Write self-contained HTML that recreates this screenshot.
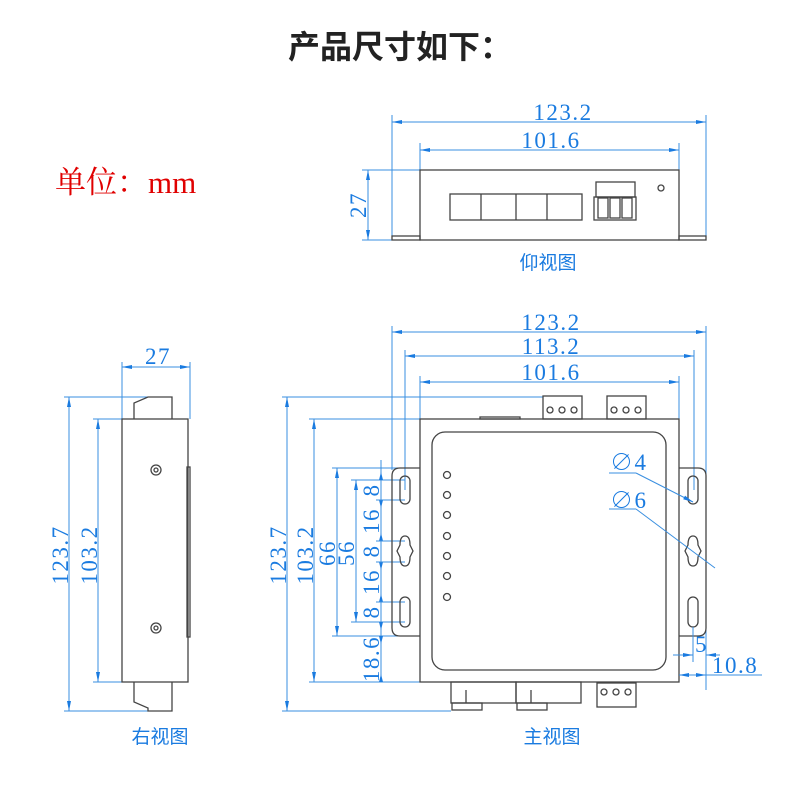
<!DOCTYPE html>
<html><head><meta charset="utf-8"><style>
html,body{margin:0;padding:0;background:#fff;}
svg{display:block;}
.t{font-family:"Liberation Serif","Noto Serif CJK SC",serif;fill:#1a7be0;font-size:23px;letter-spacing:1.5px;}
.d{stroke:#3a8fe0;stroke-width:1;fill:none;}
.k{stroke:#444;stroke-width:1.3;fill:none;}
.c{font-family:"Liberation Sans","Noto Sans CJK SC",sans-serif;fill:#1a7be0;font-size:19px;}
</style></head><body>
<svg width="800" height="800" viewBox="0 0 800 800" xmlns="http://www.w3.org/2000/svg">
<defs>
<marker id="a" markerWidth="10" markerHeight="6" refX="10" refY="3" orient="auto-start-reverse" markerUnits="userSpaceOnUse"><path d="M0,1 L10,3 L0,5z" fill="#1a7be0"/></marker>
</defs>
<text x="400" y="58" text-anchor="middle" font-family="Liberation Sans,'Noto Sans CJK SC',sans-serif" font-size="32" font-weight="bold" fill="#222">产品尺寸如下：</text>
<text x="55" y="193" font-family="'Liberation Serif','Noto Serif CJK SC',serif" font-size="31" fill="#e00000">单位：mm</text>

<!-- TOP VIEW -->
<g>
<line class="d" x1="392" y1="122" x2="706" y2="122" marker-start="url(#a)" marker-end="url(#a)"/>
<line class="d" x1="420" y1="150" x2="679" y2="150" marker-start="url(#a)" marker-end="url(#a)"/>
<line class="d" x1="392" y1="115" x2="392" y2="240"/>
<line class="d" x1="706" y1="115" x2="706" y2="240"/>
<line class="d" x1="420" y1="143" x2="420" y2="170"/>
<line class="d" x1="679" y1="143" x2="679" y2="170"/>
<line class="d" x1="368" y1="170" x2="368" y2="240" marker-start="url(#a)" marker-end="url(#a)"/>
<line class="d" x1="362" y1="170" x2="420" y2="170"/>
<line class="d" x1="362" y1="240" x2="392" y2="240"/>
<text class="t" x="563" y="120" text-anchor="middle">123.2</text>
<text class="t" x="551" y="148" text-anchor="middle">101.6</text>
<text class="t" transform="translate(366,205) rotate(-90)" text-anchor="middle">27</text>
<rect class="k" x="420" y="170" width="259" height="70"/>
<rect class="k" x="392" y="236" width="28" height="4"/>
<rect class="k" x="679" y="236" width="27" height="4"/>
<rect class="k" x="450" y="194" width="132" height="26"/>
<line class="k" x1="481" y1="194" x2="481" y2="220"/><line class="k" x1="516" y1="194" x2="516" y2="220"/><line class="k" x1="547" y1="194" x2="547" y2="220"/>
<rect class="k" x="596" y="182" width="39" height="15"/>
<rect class="k" x="594" y="197" width="42" height="23"/>
<rect class="k" x="598" y="198" width="10" height="20"/><rect class="k" x="610" y="198" width="10" height="20"/><rect class="k" x="622" y="198" width="10" height="20"/>
<circle class="k" cx="661" cy="188" r="3"/>
<text class="c" x="548" y="269" text-anchor="middle">仰视图</text>
</g>

<!-- SIDE VIEW -->
<g>
<line class="d" x1="122" y1="367" x2="190" y2="367" marker-start="url(#a)" marker-end="url(#a)"/>
<line class="d" x1="122" y1="362" x2="122" y2="419"/>
<line class="d" x1="190" y1="362" x2="190" y2="419"/>
<text class="t" x="158" y="364" text-anchor="middle">27</text>
<line class="d" x1="69" y1="397" x2="69" y2="711" marker-start="url(#a)" marker-end="url(#a)"/>
<line class="d" x1="64" y1="397" x2="148" y2="397"/>
<line class="d" x1="64" y1="711" x2="148" y2="711"/>
<line class="d" x1="98" y1="419" x2="98" y2="682" marker-start="url(#a)" marker-end="url(#a)"/>
<line class="d" x1="93" y1="419" x2="122" y2="419"/>
<line class="d" x1="93" y1="682" x2="122" y2="682"/>
<text class="t" transform="translate(68,555) rotate(-90)" text-anchor="middle">123.7</text>
<text class="t" transform="translate(97,555) rotate(-90)" text-anchor="middle">103.2</text>
<rect class="k" x="122" y="419" width="66" height="263"/>
<path class="k" d="M134,419 L134,403 L148,397 L172,397 L172,419"/>
<path class="k" d="M134,682 L134,702 L148,708 L148,711 L172,711 L172,682"/>
<rect class="k" x="187" y="467" width="3" height="170"/>
<circle class="k" cx="156" cy="470" r="5"/><circle class="k" cx="156" cy="470" r="2"/>
<circle class="k" cx="156" cy="628" r="5"/><circle class="k" cx="156" cy="628" r="2"/>
<text class="c" x="160" y="743" text-anchor="middle">右视图</text>
</g>

<!-- MAIN VIEW -->
<g>
<line class="d" x1="392" y1="332" x2="706" y2="332" marker-start="url(#a)" marker-end="url(#a)"/>
<line class="d" x1="405" y1="356" x2="694" y2="356" marker-start="url(#a)" marker-end="url(#a)"/>
<line class="d" x1="420" y1="382" x2="679" y2="382" marker-start="url(#a)" marker-end="url(#a)"/>
<line class="d" x1="392" y1="326" x2="392" y2="470"/>
<line class="d" x1="706" y1="326" x2="706" y2="690"/>
<line class="d" x1="405" y1="350" x2="405" y2="490"/>
<line class="d" x1="694" y1="350" x2="694" y2="490"/>
<line class="d" x1="420" y1="376" x2="420" y2="419"/>
<line class="d" x1="679" y1="376" x2="679" y2="419"/>
<text class="t" x="551" y="330" text-anchor="middle">123.2</text>
<text class="t" x="551" y="354" text-anchor="middle">113.2</text>
<text class="t" x="551" y="380" text-anchor="middle">101.6</text>

<line class="d" x1="287" y1="397" x2="287" y2="711" marker-start="url(#a)" marker-end="url(#a)"/>
<line class="d" x1="282" y1="397" x2="543" y2="397"/>
<line class="d" x1="282" y1="711" x2="451" y2="711"/>
<line class="d" x1="314" y1="419" x2="314" y2="682" marker-start="url(#a)" marker-end="url(#a)"/>
<line class="d" x1="309" y1="419" x2="420" y2="419"/>
<line class="d" x1="309" y1="682" x2="420" y2="682"/>
<text class="t" transform="translate(286,555) rotate(-90)" text-anchor="middle">123.7</text>
<text class="t" transform="translate(313,555) rotate(-90)" text-anchor="middle">103.2</text>
<line class="d" x1="337" y1="468" x2="337" y2="636" marker-start="url(#a)" marker-end="url(#a)"/>
<line class="d" x1="332" y1="468" x2="405" y2="468"/>
<line class="d" x1="332" y1="636" x2="405" y2="636"/>
<line class="d" x1="356" y1="480" x2="356" y2="622" marker-start="url(#a)" marker-end="url(#a)"/>
<line class="d" x1="351" y1="480" x2="405" y2="480"/>
<line class="d" x1="351" y1="622" x2="405" y2="622"/>
<text class="t" transform="translate(335,553) rotate(-90)" text-anchor="middle">66</text>
<text class="t" transform="translate(354,553) rotate(-90)" text-anchor="middle">56</text>
<line class="d" x1="381" y1="460" x2="381" y2="682"/>
<g fill="#1a7be0">
<path d="M379,480 l2,-8 l2,8z"/><path d="M379,500 l2,8 l2,-8z"/>
<path d="M379,541 l2,-8 l2,8z"/><path d="M379,562 l2,8 l2,-8z"/>
<path d="M379,602 l2,-8 l2,8z"/><path d="M379,622 l2,8 l2,-8z"/>
<path d="M379,636 l2,8 l2,-8z"/><path d="M379,682 l2,-8 l2,8z"/>
</g>
<line class="d" x1="376" y1="500" x2="405" y2="500"/>
<line class="d" x1="376" y1="541" x2="405" y2="541"/>
<line class="d" x1="376" y1="562" x2="405" y2="562"/>
<line class="d" x1="376" y1="602" x2="405" y2="602"/>
<text class="t" transform="translate(379,490) rotate(-90)" text-anchor="middle">8</text>
<text class="t" transform="translate(379,521) rotate(-90)" text-anchor="middle">16</text>
<text class="t" transform="translate(379,551) rotate(-90)" text-anchor="middle">8</text>
<text class="t" transform="translate(379,582) rotate(-90)" text-anchor="middle">16</text>
<text class="t" transform="translate(379,612) rotate(-90)" text-anchor="middle">8</text>
<text class="t" transform="translate(379,659) rotate(-90)" text-anchor="middle">18.6</text>

<!-- body -->
<rect class="k" x="420" y="419" width="259" height="263"/>
<rect class="k" x="432" y="432" width="234" height="238" rx="13"/>
<path class="k" d="M420,468 L400,468 Q392,468 392,476 L392,628 Q392,636 400,636 L420,636"/>
<path class="k" d="M679,468 L698,468 Q706,468 706,476 L706,628 Q706,636 698,636 L679,636"/>
<rect class="k" x="400" y="476" width="10" height="28" rx="5"/>
<rect class="k" x="400" y="597" width="10" height="30" rx="5"/>
<path class="k" d="M405,536 Q410,536 410,545 L413,551 L410,557 Q410,566 405,566 Q400,566 400,557 L397,551 L400,545 Q400,536 405,536z"/>
<rect class="k" x="688" y="476" width="10" height="28" rx="5"/>
<rect class="k" x="688" y="597" width="10" height="30" rx="5"/>
<path class="k" d="M693,536 Q698,536 698,545 L701,551 L698,557 Q698,566 693,566 Q688,566 688,557 L685,551 L688,545 Q688,536 693,536z"/>
<g class="k"><circle cx="447" cy="475" r="3.5"/><circle cx="447" cy="495" r="3.5"/><circle cx="447" cy="515" r="3.5"/><circle cx="447" cy="536" r="3.5"/><circle cx="447" cy="556" r="3.5"/><circle cx="447" cy="576" r="3.5"/><circle cx="447" cy="597" r="3.5"/></g>
<rect class="k" x="480" y="417" width="40" height="2"/>
<rect class="k" x="543" y="396" width="39" height="23"/>
<rect class="k" x="607" y="396" width="39" height="23"/>
<g class="k"><circle cx="550" cy="410" r="3"/><circle cx="562" cy="410" r="3"/><circle cx="574" cy="410" r="3"/><circle cx="614" cy="410" r="3"/><circle cx="626" cy="410" r="3"/><circle cx="638" cy="410" r="3"/></g>
<rect class="k" x="451" y="682" width="65" height="21"/>
<rect class="k" x="516" y="682" width="65" height="21"/>
<rect class="k" x="452" y="703" width="30" height="7"/>
<rect class="k" x="517" y="703" width="30" height="7"/>
<line class="k" x1="466" y1="690" x2="466" y2="703"/><line class="k" x1="531" y1="690" x2="531" y2="703"/>
<rect class="k" x="597" y="683" width="39" height="24"/>
<g class="k"><circle cx="604" cy="692" r="3"/><circle cx="616" cy="692" r="3"/><circle cx="628" cy="692" r="3"/></g>

<text class="t" x="610" y="470">∅4</text>
<text class="t" x="610" y="508">∅6</text>
<line class="d" x1="609" y1="473" x2="636" y2="473"/>
<line class="d" x1="636" y1="473" x2="693" y2="502" marker-end="url(#a)"/>
<line class="d" x1="609" y1="509" x2="636" y2="509"/>
<line class="d" x1="636" y1="509" x2="715" y2="568"/>
<line class="d" x1="693" y1="627" x2="693" y2="662"/>
<line class="d" x1="673" y1="655" x2="693" y2="655" marker-end="url(#a)"/>
<line class="d" x1="720" y1="655" x2="706" y2="655" marker-end="url(#a)"/>
<text class="t" x="695" y="652">5</text>
<line class="d" x1="679" y1="675" x2="706" y2="675" marker-start="url(#a)" marker-end="url(#a)"/>
<line class="d" x1="706" y1="675" x2="762" y2="675"/>
<text class="t" x="712" y="673">10.8</text>
<text class="c" x="552" y="743" text-anchor="middle">主视图</text>
</g>
</svg>
</body></html>
